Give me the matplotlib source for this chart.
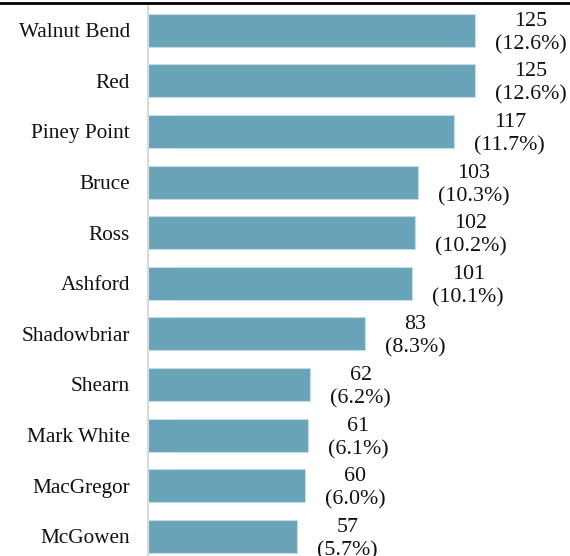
import matplotlib
matplotlib.use("Agg")
import matplotlib.pyplot as plt
from matplotlib.lines import Line2D

# Counts per school, ordered from largest to smallest
schools = ["Walnut Bend", "Red", "Piney Point", "Bruce", "Ross", "Ashford",
           "Shadowbriar", "Shearn", "Mark White", "MacGregor", "McGowen"]
counts = [125, 125, 117, 103, 102, 101, 83, 62, 61, 60, 57]
shares = [12.6, 12.6, 11.7, 10.3, 10.2, 10.1, 8.3, 6.2, 6.1, 6.0, 5.7]

plt.rcParams["font.family"] = ["Liberation Serif", "DejaVu Serif"]

W, H = 570, 556
fig = plt.figure(figsize=(W / 100, H / 100), dpi=100)

left_px, top_px, slot_px = 148, 5, 50.6
n = len(schools)
ax_h = n * slot_px
ax = fig.add_axes([left_px / W, (H - top_px - ax_h) / H,
                   (W - left_px) / W, ax_h / H])

ypos = list(range(n))
ax.barh(ypos, counts, height=0.65, color="#68a3b8",
        edgecolor="#c4dce4", linewidth=0.8)

ax.set_ylim(n - 0.5, -0.5)
ax.set_xlim(0, (W - left_px) / 2.618)

ax.set_yticks(ypos)
ax.set_yticklabels(schools, fontsize=15.3, color="#111111")
ax.tick_params(axis="y", length=0, pad=13)
ax.set_xticks([])

for side in ("top", "right", "bottom"):
    ax.spines[side].set_visible(False)
ax.spines["left"].set_color("#d9d9d9")
ax.spines["left"].set_linewidth(1.5)

for y, c, s in zip(ypos, counts, shares):
    ax.annotate(f"{c}\n({s:.1f}%)", xy=(c, y), xytext=(14.4, -2),
                textcoords="offset points", ha="left", va="center",
                multialignment="center", fontsize=15.8, linespacing=1.3,
                color="#111111")

# Rule along the top edge
fig.add_artist(Line2D([0, 1], [1 - 2.5 / H, 1 - 2.5 / H],
                      transform=fig.transFigure, color="black", linewidth=2))

fig.savefig("out.png", dpi=100)
